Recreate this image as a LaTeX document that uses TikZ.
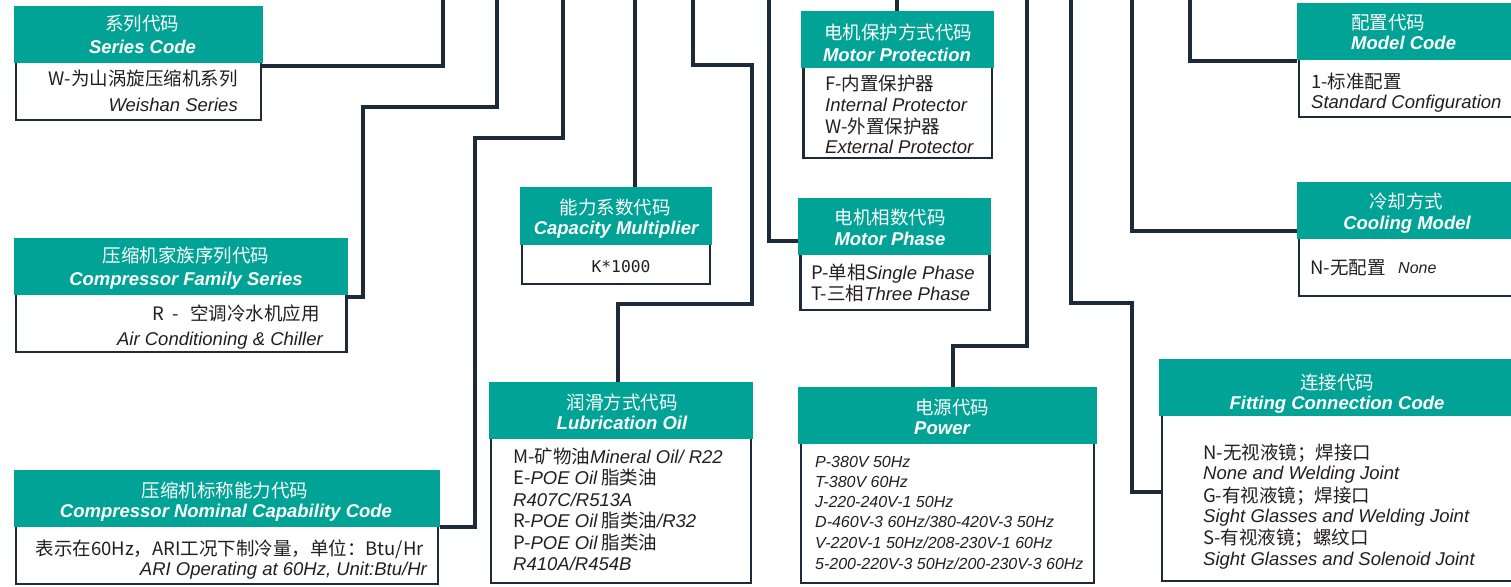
\documentclass[tikz,border=0pt]{standalone}
\usepackage{fontspec}
\setmainfont{Liberation Sans}
\newfontfamily\cjk{Noto Sans CJK SC}
\newfontfamily\mofont[Scale=0.88]{DejaVu Sans Mono}
\definecolor{teal1}{HTML}{00A396}
\definecolor{navy}{HTML}{1D2A3A}
\definecolor{txt}{HTML}{231F20}
\newcommand\en[1]{{\rmfamily\itshape #1}}
\newcommand\mo[1]{{\mofont #1}}
\tikzset{
  hdr/.style={fill=teal1, draw=none, inner sep=0pt, outer sep=0pt, anchor=north west},
  bdy/.style={draw=navy, line width=2.7pt, fill=white, inner sep=0pt, outer sep=0pt, anchor=north west},
  conn/.style={draw=navy, line width=3.2pt},
  hz/.style={text=white, inner sep=0pt, anchor=base, font=\cjk\fontsize{18.5}{22}\selectfont},
  he/.style={text=white, inner sep=0pt, anchor=base, font=\bfseries\itshape\fontsize{18.5}{22}\selectfont},
  bz/.style={text=txt, inner sep=0pt, anchor=base west, font=\cjk\fontsize{18.5}{22}\selectfont},
  be/.style={text=txt, inner sep=0pt, anchor=base west, font=\itshape\fontsize{18.5}{22}\selectfont},
  pe/.style={text=txt, inner sep=0pt, anchor=base west, font=\itshape\fontsize{16}{19}\selectfont},
}
\begin{document}
\begin{tikzpicture}[x=1pt,y=-1pt]
\useasboundingbox (0,0) rectangle (1511,586);
\clip (0,0) rectangle (1511,586);
\fill[white] (0,0) rectangle (1511,586);
% free ends at the top edge
\coordinate (t1) at (443,-5);
\coordinate (t2) at (497,-5);
\coordinate (t3) at (563,-5);
\coordinate (t4) at (635,-5);
\coordinate (t5) at (693,-5);
\coordinate (t6) at (769,-5);
\coordinate (t7) at (897,-5);
\coordinate (t8) at (1027,-5);
\coordinate (t9) at (1071,-5);
\coordinate (t10) at (1132,-5);
\coordinate (t11) at (1190,-5);
% bodies
\node[bdy, minimum width=245pt, minimum height=58pt] (sB) at (16,62) {};
\node[bdy, minimum width=330.5pt, minimum height=58pt] (fB) at (16,294) {};
\node[bdy, minimum width=422pt, minimum height=58pt] (nB) at (16,526) {};
\node[bdy, minimum width=188pt, minimum height=40pt] (cB) at (522,244) {};
\node[bdy, minimum width=260pt, minimum height=145pt] (lB) at (491,438) {};
\node[bdy, minimum width=188.5pt, minimum height=91pt] (mpB) at (803.5,67) {};
\node[bdy, minimum width=189pt, minimum height=56pt] (pB) at (800.5,254) {};
\node[bdy, minimum width=293pt, minimum height=140pt] (pwB) at (801,443) {};
\node[bdy, minimum width=240pt, minimum height=58pt] (moB) at (1299,59) {};
\node[bdy, minimum width=240pt, minimum height=58pt] (coB) at (1299,238) {};
\node[bdy, minimum width=380pt, minimum height=166pt] (ftB) at (1162,415) {};
% headers
\node[hdr, minimum width=249pt, minimum height=57pt] (sH) at (14,6) {};
\node[hdr, minimum width=334pt, minimum height=57pt] (fH) at (14,238) {};
\node[hdr, minimum width=426pt, minimum height=57pt] (nH) at (14,470) {};
\node[hdr, minimum width=192pt, minimum height=58pt] (cH) at (520,187) {};
\node[hdr, minimum width=264pt, minimum height=57pt] (lH) at (489,382) {};
\node[hdr, minimum width=193pt, minimum height=57pt] (mpH) at (801,11) {};
\node[hdr, minimum width=193pt, minimum height=57pt] (pH) at (798,198) {};
\node[hdr, minimum width=299pt, minimum height=57pt] (pwH) at (798,387) {};
\node[hdr, minimum width=230pt, minimum height=57pt] (moH) at (1297,3) {};
\node[hdr, minimum width=230pt, minimum height=57pt] (coH) at (1297,182) {};
\node[hdr, minimum width=370pt, minimum height=57pt] (ftH) at (1159,359) {};
% connectors
\draw[conn] ([yshift=-4pt]sB.north east) -| (t1);
\draw[conn] ([yshift=-3pt]fB.north east) -| (363,107) -| (t2);
\draw[conn] (nH.south east) -| (475,138) -| (t3);
\draw[conn] (cH.north -| t4) -- (t4);
\draw[conn] (lH.north -| 618,0) |- (752,304) -- (752,65) -| (t5);
\draw[conn] (pH.west |- 0,241) -| (t6);
\draw[conn] (mpH.north -| t7) -- (t7);
\draw[conn] (pwH.north -| 953,0) |- (1027,346) -- (t8);
\draw[conn] (ftB.west |- 0,492) -| (1132,303) -| (t9);
\draw[conn] (coH.west |- 0,231) -| (t10);
\draw[conn] (moH.west |- 0,61) -| (t11);
% Series
\node[hz] (s1) at (142,31) {系列代码};
\node[he] (s2) at (142.5,53) {Series Code};
\node[bz, anchor=base east] (s3) at (238,85) {W-为山涡旋压缩机系列};
\node[be, anchor=base east] (s4) at (238,111) {Weishan Series};
% Family
\node[hz] (f1) at (186,262) {压缩机家族序列代码};
\node[he] (f2) at (186,285) {Compressor Family Series};
\node[bz, anchor=base east] (f3) at (320,320) {R\hspace{9pt}-\hspace{11pt}空调冷水机应用};
\node[be, anchor=base east] (f4) at (323,345) {Air Conditioning \& Chiller};
% Nominal
\node[hz] (n1) at (225,497) {压缩机标称能力代码};
\node[he] (n2) at (226,517) {Compressor Nominal Capability Code};
\node[bz, anchor=base east] (n3) at (424,555) {表示在60Hz，ARI工况下制冷量，单位：Btu/Hr};
\node[be, anchor=base east] (n4) at (427,575) {ARI Operating at 60Hz, Unit:Btu/Hr};
% Capacity
\node[hz] (c1) at (615,214) {能力系数代码};
\node[he] (c2) at (616,234) {Capacity Multiplier};
\node[bz, anchor=base] (c3) at (621,272) {\mo{K*1000}};
% Lubrication
\node[hz] (l1) at (622,409) {润滑方式代码};
\node[he] (l2) at (622,429) {Lubrication Oil};
\node[bz] (l3) at (513,463) {M-矿物油\en{Mineral Oil/ R22}};
\node[bz] (l4) at (513,484.5) {E-\en{POE Oil} 脂类油};
\node[be] (l5) at (513,506) {R407C/R513A};
\node[bz] (l6) at (513,527.5) {R-\en{POE Oil} 脂类油\en{/R32}};
\node[bz] (l7) at (513,549) {P-\en{POE Oil} 脂类油};
\node[be] (l8) at (513,570) {R410A/R454B};
% Motor protection
\node[hz] (m1) at (898,40) {电机保护方式代码};
\node[he] (m2) at (897,62) {Motor Protection};
\node[bz] (m3) at (825,90) {F-内置保护器};
\node[be] (m4) at (825,111) {Internal Protector};
\node[bz] (m5) at (825,133) {W-外置保护器};
\node[be] (m6) at (825,153) {External Protector};
% Motor phase
\node[hz] (p1) at (890,224) {电机相数代码};
\node[he] (p2) at (890,245) {Motor Phase};
\node[bz] (p3) at (811,279) {P-单相\en{Single Phase}};
\node[bz] (p4) at (811,300) {T-三相\en{Three Phase}};
% Power
\node[hz, anchor=base west] (w1) at (915,414) {电源代码};
\node[he, anchor=base west] (w2) at (914,434) {Power};
\node[pe] (w3) at (815,467) {P-380V 50Hz};
\node[pe] (w4) at (815,487) {T-380V 60Hz};
\node[pe] (w5) at (815,507) {J-220-240V-1 50Hz};
\node[pe] (w6) at (815,527) {D-460V-3 60Hz/380-420V-3 50Hz};
\node[pe] (w7) at (815,548) {V-220V-1 50Hz/208-230V-1 60Hz};
\node[pe] (w8) at (815,569) {5-200-220V-3 50Hz/200-230V-3 60Hz};
% Model code
\node[hz, anchor=base west] (o1) at (1351,30) {配置代码};
\node[he, anchor=base west] (o2) at (1351,50) {Model Code};
\node[bz] (o3) at (1311,88) {1-标准配置};
\node[be] (o4) at (1311,108) {Standard Configuration};
% Cooling
\node[hz] (k1) at (1406,208) {冷却方式};
\node[he] (k2) at (1407,229) {Cooling Model};
\node[bz] (k3) at (1310,274) {N-无配置};
\node[pe] (k4) at (1398,273) {None};
% Fitting
\node[hz] (g1) at (1337,389) {连接代码};
\node[he] (g2) at (1337,409) {Fitting Connection Code};
\node[bz] (g3) at (1203,459) {N-无视液镜；焊接口};
\node[be] (g4) at (1203,479) {None and Welding Joint};
\node[bz] (g5) at (1203,502) {G-有视液镜；焊接口};
\node[be] (g6) at (1203,522) {Sight Glasses and Welding Joint};
\node[bz] (g7) at (1203,544) {S-有视液镜；螺纹口};
\node[be] (g8) at (1203,565) {Sight Glasses and Solenoid Joint};
\end{tikzpicture}
\end{document}
